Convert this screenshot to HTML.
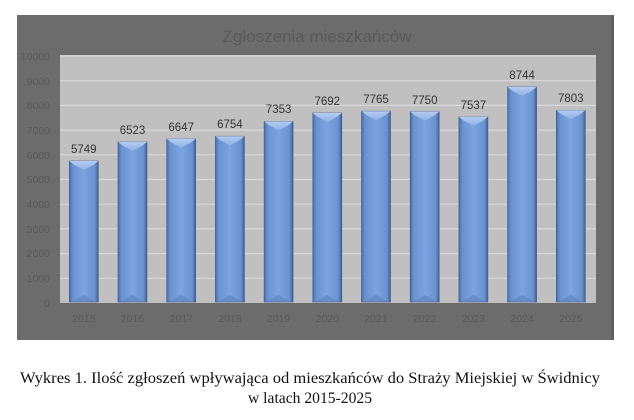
<!DOCTYPE html>
<html><head><meta charset="utf-8"><style>
html,body{margin:0;padding:0;background:#fff;}
svg{display:block;}
</style></head><body>
<svg width="634" height="420" viewBox="0 0 634 420" xmlns="http://www.w3.org/2000/svg">
<defs>
<linearGradient id="bg" x1="0" x2="1" y1="0" y2="0">
<stop offset="0" stop-color="#4a6ea8"/>
<stop offset="0.12" stop-color="#6a92d0"/>
<stop offset="0.5" stop-color="#7ca4e0"/>
<stop offset="0.88" stop-color="#6a92d0"/>
<stop offset="1" stop-color="#3e5f96"/>
</linearGradient>
<linearGradient id="tg" x1="0" x2="0" y1="0" y2="1">
<stop offset="0" stop-color="#b4ccf0"/>
<stop offset="1" stop-color="#8fb2e6"/>
</linearGradient>
</defs>
<rect x="17" y="15" width="597" height="325" fill="#6c6c6c"/>
<rect x="611" y="15" width="3" height="325" fill="#5e5e5e"/>
<rect x="60" y="55" width="536" height="248" fill="#c0c0c0"/>
<g stroke="#d9d9d9" stroke-width="1.2">
<line x1="60" x2="596" y1="56" y2="56"/>
<line x1="60" x2="596" y1="80.7" y2="80.7"/>
<line x1="60" x2="596" y1="105.4" y2="105.4"/>
<line x1="60" x2="596" y1="130.1" y2="130.1"/>
<line x1="60" x2="596" y1="154.8" y2="154.8"/>
<line x1="60" x2="596" y1="179.5" y2="179.5"/>
<line x1="60" x2="596" y1="204.2" y2="204.2"/>
<line x1="60" x2="596" y1="228.9" y2="228.9"/>
<line x1="60" x2="596" y1="253.6" y2="253.6"/>
<line x1="60" x2="596" y1="278.3" y2="278.3"/>
</g>
<text x="317" y="42" text-anchor="middle" font-family="Liberation Sans, sans-serif" font-size="17" fill="#5a5a5a">Zgłoszenia mieszkańców</text>
<g font-family="Liberation Sans, sans-serif" font-size="10.5" fill="#5a5a5a" text-anchor="end">
<text x="50" y="60">10000</text>
<text x="50" y="85">9000</text>
<text x="50" y="109">8000</text>
<text x="50" y="134">7000</text>
<text x="50" y="159">6000</text>
<text x="50" y="183">5000</text>
<text x="50" y="208">4000</text>
<text x="50" y="233">3000</text>
<text x="50" y="257">2000</text>
<text x="50" y="282">1000</text>
<text x="50" y="307">0</text>
</g>

<g transform="translate(69.3,161)"><rect width="29" height="141" fill="url(#bg)" stroke="#3d5a8a" stroke-width="0.6"/><polygon points="0,0 29,0 24,4 14.5,9 5,4" fill="url(#tg)"/><polygon points="2,141 27,141 14.5,134" fill="#5d82bd" opacity="0.6"/></g>
<g transform="translate(118,141.9)"><rect width="29" height="160.1" fill="url(#bg)" stroke="#3d5a8a" stroke-width="0.6"/><polygon points="0,0 29,0 24,4 14.5,9 5,4" fill="url(#tg)"/><polygon points="2,160.1 27,160.1 14.5,153.1" fill="#5d82bd" opacity="0.6"/></g>
<g transform="translate(166.7,138.8)"><rect width="29" height="163.2" fill="url(#bg)" stroke="#3d5a8a" stroke-width="0.6"/><polygon points="0,0 29,0 24,4 14.5,9 5,4" fill="url(#tg)"/><polygon points="2,163.2 27,163.2 14.5,156.2" fill="#5d82bd" opacity="0.6"/></g>
<g transform="translate(215.4,136.2)"><rect width="29" height="165.8" fill="url(#bg)" stroke="#3d5a8a" stroke-width="0.6"/><polygon points="0,0 29,0 24,4 14.5,9 5,4" fill="url(#tg)"/><polygon points="2,165.8 27,165.8 14.5,158.8" fill="#5d82bd" opacity="0.6"/></g>
<g transform="translate(264.1,121.4)"><rect width="29" height="180.6" fill="url(#bg)" stroke="#3d5a8a" stroke-width="0.6"/><polygon points="0,0 29,0 24,4 14.5,9 5,4" fill="url(#tg)"/><polygon points="2,180.6 27,180.6 14.5,173.6" fill="#5d82bd" opacity="0.6"/></g>
<g transform="translate(312.8,113)"><rect width="29" height="189" fill="url(#bg)" stroke="#3d5a8a" stroke-width="0.6"/><polygon points="0,0 29,0 24,4 14.5,9 5,4" fill="url(#tg)"/><polygon points="2,189 27,189 14.5,182" fill="#5d82bd" opacity="0.6"/></g>
<g transform="translate(361.5,111.2)"><rect width="29" height="190.8" fill="url(#bg)" stroke="#3d5a8a" stroke-width="0.6"/><polygon points="0,0 29,0 24,4 14.5,9 5,4" fill="url(#tg)"/><polygon points="2,190.8 27,190.8 14.5,183.8" fill="#5d82bd" opacity="0.6"/></g>
<g transform="translate(410.2,111.6)"><rect width="29" height="190.4" fill="url(#bg)" stroke="#3d5a8a" stroke-width="0.6"/><polygon points="0,0 29,0 24,4 14.5,9 5,4" fill="url(#tg)"/><polygon points="2,190.4 27,190.4 14.5,183.4" fill="#5d82bd" opacity="0.6"/></g>
<g transform="translate(458.9,116.8)"><rect width="29" height="185.2" fill="url(#bg)" stroke="#3d5a8a" stroke-width="0.6"/><polygon points="0,0 29,0 24,4 14.5,9 5,4" fill="url(#tg)"/><polygon points="2,185.2 27,185.2 14.5,178.2" fill="#5d82bd" opacity="0.6"/></g>
<g transform="translate(507.6,87)"><rect width="29" height="215" fill="url(#bg)" stroke="#3d5a8a" stroke-width="0.6"/><polygon points="0,0 29,0 24,4 14.5,9 5,4" fill="url(#tg)"/><polygon points="2,215 27,215 14.5,208" fill="#5d82bd" opacity="0.6"/></g>
<g transform="translate(556.3,110.3)"><rect width="29" height="191.7" fill="url(#bg)" stroke="#3d5a8a" stroke-width="0.6"/><polygon points="0,0 29,0 24,4 14.5,9 5,4" fill="url(#tg)"/><polygon points="2,191.7 27,191.7 14.5,184.7" fill="#5d82bd" opacity="0.6"/></g>

<g font-family="Liberation Sans, sans-serif" font-size="10.5" fill="#5a5a5a" text-anchor="middle">
<text x="83.8" y="322">2015</text>
<text x="132.5" y="322">2016</text>
<text x="181.2" y="322">2017</text>
<text x="229.9" y="322">2018</text>
<text x="278.6" y="322">2019</text>
<text x="327.3" y="322">2020</text>
<text x="376" y="322">2021</text>
<text x="424.7" y="322">2022</text>
<text x="473.4" y="322">2023</text>
<text x="522.1" y="322">2024</text>
<text x="570.8" y="322">2025</text>
</g>
<g font-family="Liberation Sans, sans-serif" font-size="11.5" fill="#333" text-anchor="middle">
<text x="83.8" y="153">5749</text>
<text x="132.5" y="134">6523</text>
<text x="181.2" y="131">6647</text>
<text x="229.9" y="128">6754</text>
<text x="278.6" y="113">7353</text>
<text x="327.3" y="105">7692</text>
<text x="376" y="103">7765</text>
<text x="424.7" y="104">7750</text>
<text x="473.4" y="109">7537</text>
<text x="522.1" y="79">8744</text>
<text x="570.8" y="102">7803</text>
</g>
<text x="20" y="383" textLength="580" lengthAdjust="spacingAndGlyphs" font-family="Liberation Serif, serif" font-size="15.5" fill="#111">Wykres 1. Ilość  zgłoszeń  wpływająca  od  mieszkańców  do  Straży  Miejskiej w Świdnicy</text>
<text x="248" y="403" font-family="Liberation Serif, serif" font-size="15.5" fill="#111" textLength="124" lengthAdjust="spacingAndGlyphs">w latach 2015-2025</text>
</svg>
</body></html>
